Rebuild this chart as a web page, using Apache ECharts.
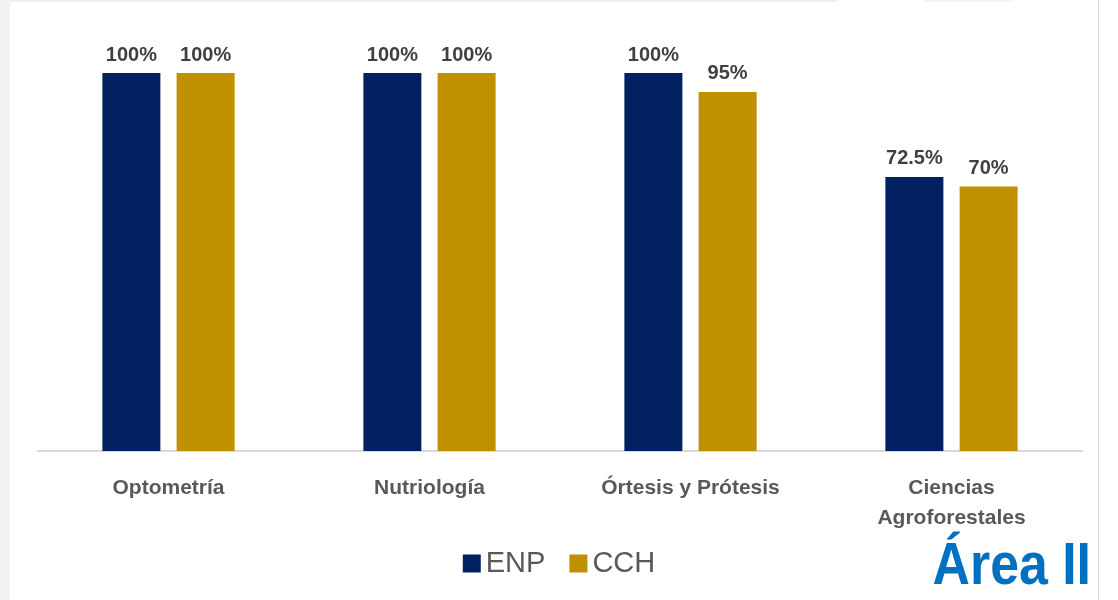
<!DOCTYPE html>
<html>
<head>
<meta charset="utf-8">
<script src="https://cdn.jsdelivr.net/npm/echarts@6/dist/echarts.min.js"></script>
<style>
  html, body { margin: 0; padding: 0; background: #fff; }
  #chart { width: 1118px; height: 600px; }
</style>
</head>
<body>
<div id="chart"></div>
<script>
(function () {
    // 数据
    const categories = ['Optometría', 'Nutriología', 'Órtesis y Prótesis', 'Ciencias\nAgroforestales']
    const enpValues = [100, 100, 100, 72.5]
    const cchValues = [100, 100, 95, 70]

    const font = '"Liberation Sans", Arial, sans-serif'

    const chart = echarts.init(document.getElementById('chart'))
    const option = {
        backgroundColor: '#fff',
        animation: false,
        graphic: [
            { type: 'rect', shape: { x: 0, y: 0, width: 10, height: 600 }, style: { fill: '#f2f2f2' } },
            { type: 'rect', shape: { x: 10, y: 0, width: 828, height: 2 }, style: { fill: '#efefef' } },
            { type: 'rect', shape: { x: 923, y: 0, width: 91, height: 2 }, style: { fill: '#f4f4f4' } },
            { type: 'rect', shape: { x: 1098, y: 0, width: 1, height: 600 }, style: { fill: '#d9d9d9' } },
            {
                // 右下角标题
                type: 'text', x: 1091, y: 597,
                scaleX: 1.08, scaleY: 1.22, originX: 0, originY: 0,
                style: {
                    text: 'Área II', fill: '#0070c0', font: 'bold 48px ' + font,
                    textAlign: 'right', textVerticalAlign: 'bottom'
                }
            }
        ],
        legend: {
            data: ['ENP', 'CCH'],
            left: 'center',
            bottom: 17,
            itemWidth: 18,
            itemHeight: 18,
            itemGap: 24,
            icon: 'rect',
            textStyle: { color: '#595959', fontSize: 29, fontFamily: font }
        },
        grid: { left: 38, right: 36, top: 73, bottom: 149 },
        xAxis: {
            type: 'category',
            data: categories,
            axisLine: { lineStyle: { color: '#d9d9d9', width: 2 } },
            axisTick: { show: false },
            axisLabel: {
                color: '#595959', fontSize: 21, fontWeight: 'bold',
                fontFamily: font, lineHeight: 30, margin: 22
            }
        },
        yAxis: {
            type: 'value', min: 0, max: 100,
            show: false,
            splitLine: { show: false }
        },
        series: [
            {
                name: 'ENP', type: 'bar', data: enpValues,
                barWidth: 58, barGap: '28%',
                itemStyle: { color: '#002060' },
                label: {
                    show: true, position: 'top', distance: 8,
                    formatter: '{c}%', color: '#404040',
                    fontSize: 20, fontWeight: 'bold', fontFamily: font
                }
            },
            {
                name: 'CCH', type: 'bar', data: cchValues,
                barWidth: 58,
                itemStyle: { color: '#bf9000' },
                label: {
                    show: true, position: 'top', distance: 8,
                    formatter: '{c}%', color: '#404040',
                    fontSize: 20, fontWeight: 'bold', fontFamily: font
                }
            }
        ]
    }
    chart.setOption(option)
})()
</script>
</body>
</html>
